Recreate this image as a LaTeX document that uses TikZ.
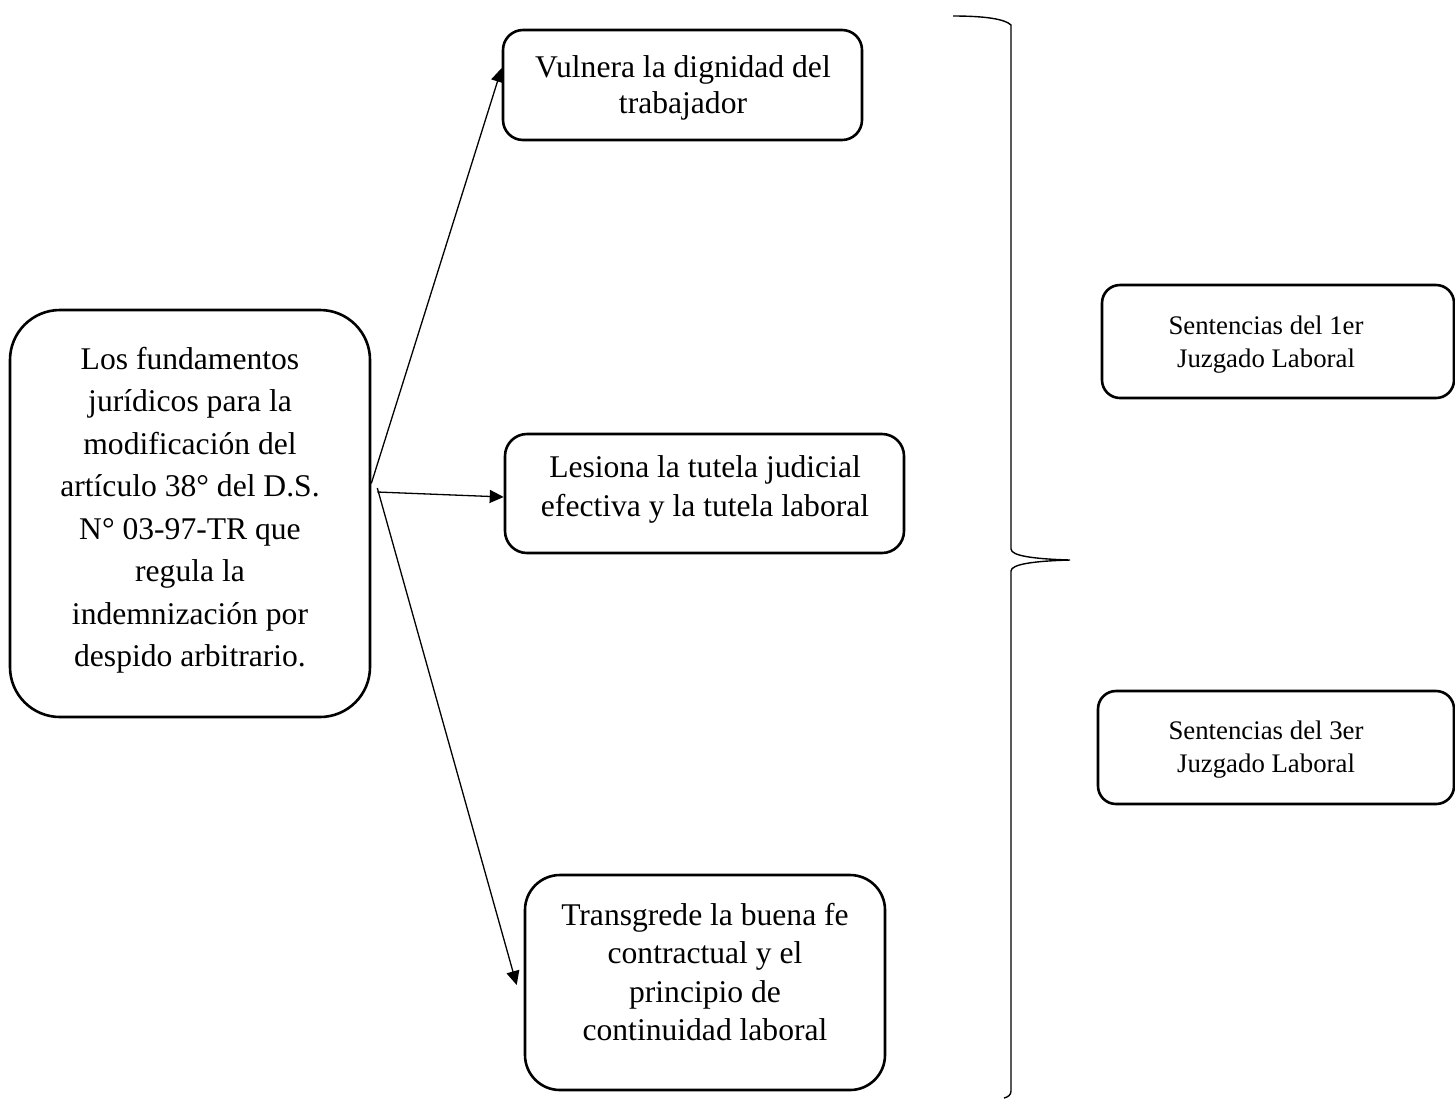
\documentclass[tikz,border=0pt]{standalone}
\usepackage{fontspec}
\setmainfont{Liberation Serif}
\usetikzlibrary{arrows.meta}

\tikzset{
  caja/.style={draw, line width=1.3pt, rounded corners=#1},
  texto/.style={align=center, inner sep=0pt},
  flecha/.style={-{Triangle[length=7pt,width=6.5pt]}, line width=0.65pt},
}

\begin{document}
\begin{tikzpicture}[x=0.5pt,y=-0.5pt]
    \useasboundingbox (0,0) rectangle (1455,1099);

    % cajas
    \node[caja=25pt, minimum width=180pt, minimum height=203.5pt] (fundamentos) at (190,513.5) {};
    \node[caja=10pt, minimum width=179.5pt, minimum height=55pt] (dignidad) at (682.5,85) {};
    \node[caja=11pt, minimum width=199.5pt, minimum height=59.5pt] (tutela) at (704.5,493.5) {};
    \node[caja=17.5pt, minimum width=180pt, minimum height=107.5pt] (buenafe) at (705,982.5) {};
    \node[caja=9pt, minimum width=176pt, minimum height=56.5pt] (primero) at (1278,341.5) {};
    \node[caja=9pt, minimum width=178pt, minimum height=56.5pt] (tercero) at (1276,747.5) {};

    % textos
    \node[texto, font=\fontsize{15.8}{21.25}\selectfont] (txtfund) at (190,510) {Los fundamentos\\jurídicos para la\\modificación del\\artículo 38° del D.S.\\N° 03-97-TR que\\regula la\\indemnización por\\despido arbitrario.};
    \node[texto, font=\fontsize{15.8}{18}\selectfont] (txtdig) at (683,88) {Vulnera la dignidad del\\trabajador};
    \node[texto, font=\fontsize{15.8}{19.5}\selectfont] (txttut) at (705,489) {Lesiona la tutela judicial\\efectiva y la tutela laboral};
    \node[texto, font=\fontsize{15.8}{19.25}\selectfont] (txtbue) at (705,972) {Transgrede la buena fe\\contractual y el\\principio de\\continuidad laboral};
    \node[texto, font=\fontsize{13.4}{16.5}\selectfont] (txtpri) at (1266,345) {Sentencias del 1er\\Juzgado Laboral};
    \node[texto, font=\fontsize{13.4}{16.5}\selectfont] (txtter) at (1266,750) {Sentencias del 3er\\Juzgado Laboral};

    % flechas
    \draw[flecha] ([yshift=15pt]fundamentos.east) -- ([yshift=8.5pt]dignidad.west);
    \draw[flecha] ([xshift=3pt,yshift=10.75pt]fundamentos.east) -- ([yshift=-1.75pt]tutela.west);
    \draw[flecha] ([xshift=3pt,yshift=12.75pt]fundamentos.east) -- ([xshift=-3.5pt,yshift=-1.25pt]buenafe.west);

    % llave
    \draw[line width=0.7pt] (953,16) .. controls (985,16) and (1005,19) .. (1011,25) -- (1011,549)
        .. controls (1011,556) and (1035,559) .. (1070,560)
        .. controls (1035,561) and (1011,564) .. (1011,571) -- (1011,1091)
        .. controls (1011,1095) and (1008,1097) .. (1004,1098);

\end{tikzpicture}
\end{document}
